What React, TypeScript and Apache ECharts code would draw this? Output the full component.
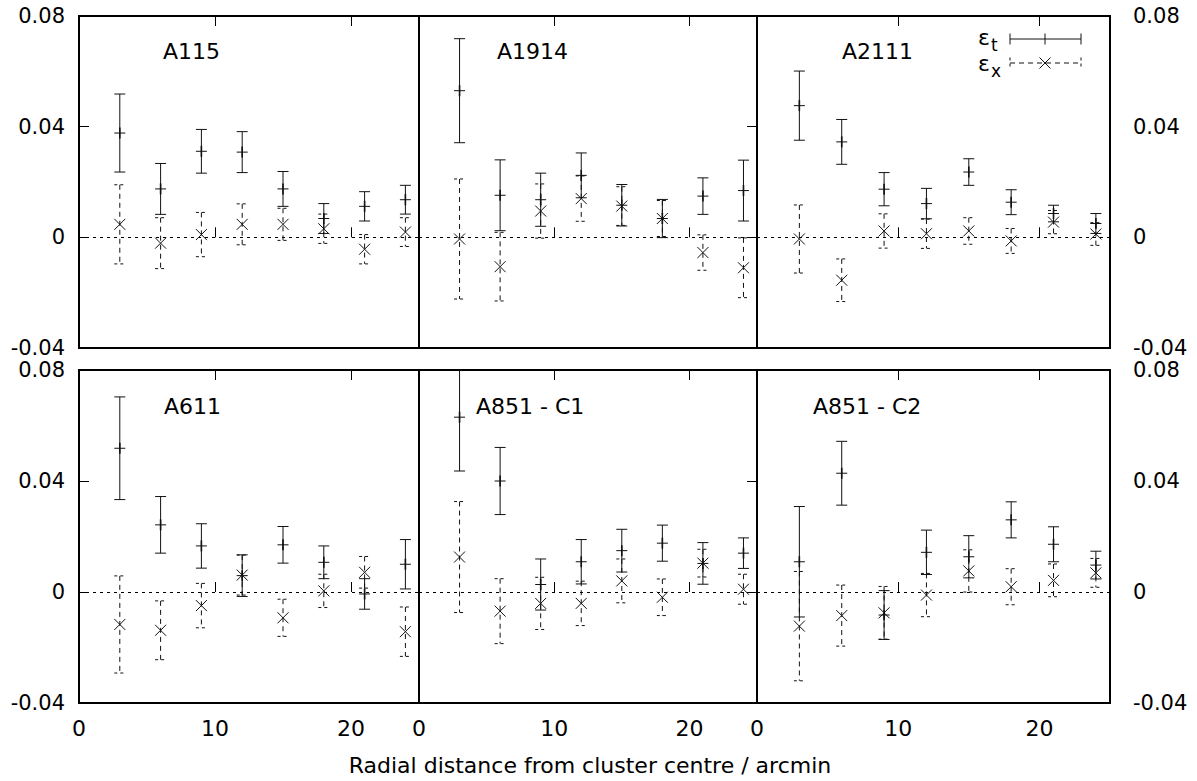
import React, { useEffect, useRef } from "react";
import * as echarts from "echarts";

// ---- data ----
const radii = [3, 6, 9, 12, 15, 18, 21, 24];
const clusterNames = ["A115", "A1914", "A2111", "A611", "A851 - C1", "A851 - C2"];
const yTickValues = [-0.04, 0, 0.04, 0.08];
const xAxisTitle = "Radial distance from cluster centre / arcmin";

const a115Et = [0.0377, 0.0175, 0.0311, 0.0308, 0.0175, 0.0068, 0.0112, 0.0136];
const a115EtErr = [0.0141, 0.0092, 0.0079, 0.0074, 0.0063, 0.0054, 0.0053, 0.0052];
const a115Ex = [0.0047, -0.0021, 0.001, 0.0047, 0.0047, 0.0031, -0.0043, 0.0019];
const a115ExErr = [0.0143, 0.0092, 0.008, 0.0074, 0.0058, 0.0053, 0.0053, 0.0052];

const a1914Et = [0.053, 0.0152, 0.0136, 0.0224, 0.0116, 0.0068, 0.0149, 0.0169];
const a1914EtErr = [0.0188, 0.0128, 0.0096, 0.0081, 0.0075, 0.0069, 0.0066, 0.011];
const a1914Ex = [-0.0006, -0.0106, 0.0095, 0.014, 0.0113, 0.0068, -0.0055, -0.011];
const a1914ExErr = [0.0217, 0.0124, 0.0098, 0.0082, 0.007, 0.0065, 0.0064, 0.0108];

const a2111Et = [0.0476, 0.0345, 0.0174, 0.0122, 0.0236, 0.0127, 0.0086, 0.005];
const a2111EtErr = [0.0125, 0.0081, 0.006, 0.0055, 0.0048, 0.0045, 0.003, 0.0036];
const a2111Ex = [-0.0006, -0.0155, 0.0023, 0.0013, 0.0023, -0.0013, 0.0055, 0.0012];
const a2111ExErr = [0.0123, 0.0077, 0.0062, 0.0053, 0.0048, 0.0045, 0.0042, 0.0041];

const a611Et = [0.0518, 0.0242, 0.0166, 0.0059, 0.017, 0.0107, -0.0007, 0.01];
const a611EtErr = [0.0185, 0.0102, 0.008, 0.0075, 0.0066, 0.0059, 0.0055, 0.0089];
const a611Ex = [-0.0117, -0.0138, -0.0049, 0.0061, -0.0093, 0.0004, 0.0071, -0.0143];
const a611ExErr = [0.0175, 0.0106, 0.008, 0.0072, 0.0067, 0.006, 0.0057, 0.0089];

const a851c1Et = [0.063, 0.04, 0.0027, 0.0109, 0.0149, 0.0176, 0.0103, 0.014];
const a851c1EtErr = [0.0194, 0.0121, 0.0092, 0.008, 0.0077, 0.0065, 0.0075, 0.0055];
const a851c1Ex = [0.0126, -0.0069, -0.0041, -0.0041, 0.004, -0.0019, 0.0104, 0.001];
const a851c1ExErr = [0.02, 0.0117, 0.0094, 0.008, 0.0079, 0.0066, 0.005, 0.0054];

const a851c2Et = [0.0109, 0.0428, -0.0083, 0.0143, 0.0127, 0.026, 0.0172, 0.0097];
const a851c2EtErr = [0.0199, 0.0115, 0.0088, 0.008, 0.0076, 0.0065, 0.0063, 0.005];
const a851c2Ex = [-0.0123, -0.0085, -0.0075, -0.0011, 0.0076, 0.0019, 0.0042, 0.0069];
const a851c2ExErr = [0.0197, 0.011, 0.0095, 0.0078, 0.0076, 0.0065, 0.0059, 0.0052];

const panelEt = [a115Et, a1914Et, a2111Et, a611Et, a851c1Et, a851c2Et];
const panelEtErr = [a115EtErr, a1914EtErr, a2111EtErr, a611EtErr, a851c1EtErr, a851c2EtErr];
const panelEx = [a115Ex, a1914Ex, a2111Ex, a611Ex, a851c1Ex, a851c2Ex];
const panelExErr = [a115ExErr, a1914ExErr, a2111ExErr, a611ExErr, a851c1ExErr, a851c2ExErr];

// ---- layout ----
const FONT = "DejaVu Sans";
const FS = 22;
const TICK_FS = 21;
const colLeft = [79, 419, 757];
const colWidth = [340, 338, 353];
const rowTop = [16, 370];
const rowHeight = [332, 333];
const labelPos = [
  [163, 51],
  [497, 51],
  [842, 51],
  [164, 406],
  [476, 406],
  [813, 406],
];

const CAP = 5.5;
const MK = 5.5;

function makeRender(kind: "t" | "x") {
  return (params: any, api: any) => {
    const x = api.value(0);
    const y = api.value(1);
    const e = api.value(2);
    const c = api.coord([x, y]);
    const hi = api.coord([x, y + e]);
    const lo = api.coord([x, y - e]);
    const dash = kind === "x" ? [5, 4] : null;
    const style: any = { stroke: "#111", lineWidth: 1, lineDash: dash, fill: null };
    const solid: any = { stroke: "#111", lineWidth: 1, fill: null };
    const capStyle = { ...style, lineDash: kind === "x" ? [3, 3] : null };
    const children: any[] = [
      { type: "line", shape: { x1: c[0], y1: hi[1], x2: c[0], y2: lo[1] }, style },
      { type: "line", shape: { x1: c[0] - CAP, y1: hi[1], x2: c[0] + CAP, y2: hi[1] }, style: capStyle },
      { type: "line", shape: { x1: c[0] - CAP, y1: lo[1], x2: c[0] + CAP, y2: lo[1] }, style: capStyle },
    ];
    if (kind === "t") {
      children.push(
        { type: "line", shape: { x1: c[0] - MK, y1: c[1], x2: c[0] + MK, y2: c[1] }, style: solid },
        { type: "line", shape: { x1: c[0], y1: c[1] - MK, x2: c[0], y2: c[1] + MK }, style: { ...solid, lineWidth: 1.6 } }
      );
    } else {
      children.push(
        { type: "line", shape: { x1: c[0] - MK, y1: c[1] - MK, x2: c[0] + MK, y2: c[1] + MK }, style: solid },
        { type: "line", shape: { x1: c[0] - MK, y1: c[1] + MK, x2: c[0] + MK, y2: c[1] - MK }, style: solid }
      );
    }
    return { type: "group", children };
  };
}

function buildOption() {
  const grid: any[] = [];
  const xAxis: any[] = [];
  const yAxis: any[] = [];
  const series: any[] = [];
  const graphic: any[] = [];

  for (let i = 0; i < 6; i++) {
    const col = i % 3;
    const row = Math.floor(i / 3);
    grid.push({
      left: colLeft[col],
      top: rowTop[row],
      width: colWidth[col],
      height: rowHeight[row],
      show: true,
      borderColor: "#000",
      borderWidth: 2,
      backgroundColor: "transparent",
    });
  }
  for (let i = 0; i < 6; i++) {
    const row = Math.floor(i / 3);
    xAxis.push({
      type: "value",
      gridIndex: i,
      min: 0,
      max: 25,
      interval: 10,
      position: "bottom",
      axisLine: { show: false },
      splitLine: { show: false },
      axisTick: { show: true, inside: true, length: 10, lineStyle: { color: "#000", width: 1 } },
      axisLabel: {
        show: row === 1,
        margin: 14,
        color: "#000",
        fontSize: FS,
        fontFamily: FONT,
        showMaxLabel: false,
        formatter: (v: number) => (v === 25 ? "" : String(v)),
      },
    });
  }
  for (let i = 0; i < 6; i++) {
    xAxis.push({
      type: "value",
      gridIndex: i,
      min: 0,
      max: 25,
      interval: 10,
      position: "top",
      axisLine: { show: false },
      splitLine: { show: false },
      axisTick: { show: true, inside: true, length: 10, lineStyle: { color: "#000", width: 1 } },
      axisLabel: { show: false },
    });
  }
  for (let i = 0; i < 6; i++) {
    const col = i % 3;
    yAxis.push({
      type: "value",
      gridIndex: i,
      min: yTickValues[0],
      max: yTickValues[yTickValues.length - 1],
      interval: 0.04,
      position: col === 2 ? "right" : "left",
      axisLine: { show: false },
      splitLine: { show: false },
      axisTick: { show: col !== 1, inside: true, length: 10, lineStyle: { color: "#000", width: 1 } },
      axisLabel: {
        show: col !== 1,
        margin: col === 0 ? 14 : 23,
        color: "#000",
        fontSize: TICK_FS,
        lineHeight: 18,
        fontFamily: FONT,
        formatter: (v: number) => (Math.abs(v) < 1e-9 ? "0" : v.toFixed(2)),
      },
    });
  }

  for (let i = 0; i < 6; i++) {
    series.push({
      type: "custom",
      name: "et" + i,
      xAxisIndex: i,
      yAxisIndex: i,
      clip: true,
      renderItem: makeRender("t"),
      encode: { x: 0, y: 1 },
      data: radii.map((r, k) => [r, panelEt[i][k], panelEtErr[i][k]]),
      z: 3,
      markLine: {
        silent: true,
        symbol: "none",
        label: { show: false },
        lineStyle: { color: "#000", width: 1, type: [3, 4] },
        data: [{ yAxis: 0 }],
        z: 1,
      },
    });
    series.push({
      type: "custom",
      name: "ex" + i,
      xAxisIndex: i,
      yAxisIndex: i,
      clip: true,
      renderItem: makeRender("x"),
      encode: { x: 0, y: 1 },
      data: radii.map((r, k) => [r, panelEx[i][k], panelExErr[i][k]]),
      z: 3,
    });
    graphic.push({
      type: "text",
      x: labelPos[i][0],
      y: labelPos[i][1],
      style: {
        text: clusterNames[i],
        fill: "#000",
        fontSize: FS,
        fontFamily: FONT,
        align: "left",
        verticalAlign: "middle",
        textAlign: "left",
        textVerticalAlign: "middle",
      },
    });
  }

  // legend
  const legLine = (y: number, dashed: boolean, marker: "t" | "x") => {
    const st: any = { stroke: "#111", lineWidth: 1, lineDash: dashed ? [5, 4] : null };
    const x1 = 1010, x2 = 1081, xm = 1045;
    const els: any[] = [
      { type: "line", shape: { x1, y1: y, x2, y2: y }, style: st },
      { type: "line", shape: { x1, y1: y - CAP, x2: x1, y2: y + CAP }, style: { ...st, lineDash: dashed ? [3, 3] : null } },
      { type: "line", shape: { x1: x2, y1: y - CAP, x2, y2: y + CAP }, style: { ...st, lineDash: dashed ? [3, 3] : null } },
    ];
    const solid = { stroke: "#111", lineWidth: 1 };
    if (marker === "t") {
      els.push({ type: "line", shape: { x1: xm, y1: y - MK, x2: xm, y2: y + MK }, style: solid });
    } else {
      els.push(
        { type: "line", shape: { x1: xm - MK, y1: y - MK, x2: xm + MK, y2: y + MK }, style: solid },
        { type: "line", shape: { x1: xm - MK, y1: y + MK, x2: xm + MK, y2: y - MK }, style: solid }
      );
    }
    return els;
  };
  graphic.push(...legLine(39, false, "t"), ...legLine(63, true, "x"));
  const greek = (txt: string, x: number, y: number, size: number, lh: number, align: string) => ({
    type: "text",
    x,
    y,
    style: {
      text: txt,
      fill: "#000",
      fontSize: size,
      lineHeight: lh,
      fontFamily: FONT,
      align,
      verticalAlign: "middle",
      textAlign: align,
      textVerticalAlign: "middle",
    },
  });
  graphic.push(
    greek("ε", 990, 37, 22, 16, "right"),
    greek("t", 991, 45, 17, 13, "left"),
    greek("ε", 990, 63, 22, 16, "right"),
    greek("x", 991, 71, 17, 12, "left")
  );

  graphic.push({
    type: "text",
    x: 590,
    y: 765,
    style: {
      text: xAxisTitle,
      fill: "#000",
      fontSize: FS,
      fontFamily: FONT,
      align: "center",
      verticalAlign: "middle",
      textAlign: "center",
      textVerticalAlign: "middle",
    },
  });

  return {
    animation: false,
    backgroundColor: "#fff",
    grid,
    xAxis,
    yAxis,
    series,
    graphic,
  };
}

export default function App() {
  const ref = useRef<HTMLDivElement>(null);
  useEffect(() => {
    if (!ref.current) return;
    const chart = echarts.init(ref.current, null, { renderer: "svg" });
    chart.setOption(buildOption() as any);
    return () => chart.dispose();
  }, []);
  return (
    <div
      ref={ref}
      style={{ position: "fixed", left: 0, top: 0, width: 1197, height: 781, background: "#fff" }}
    />
  );
}
